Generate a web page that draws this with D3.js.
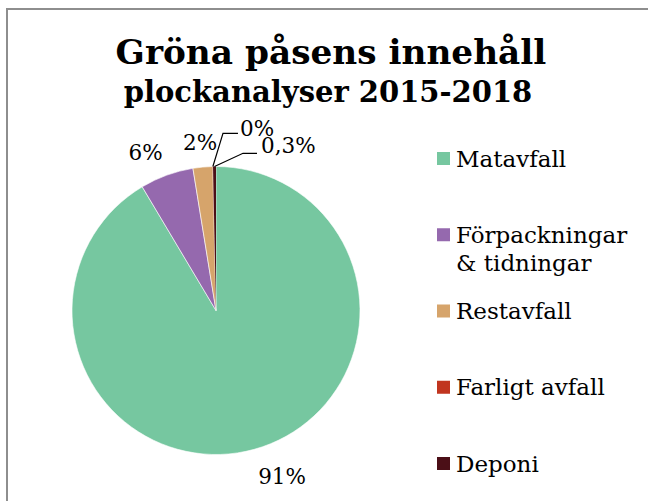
<!DOCTYPE html>
<html lang="sv">
<head>
<meta charset="utf-8">
<title>Gröna påsens innehåll</title>
<script src="https://d3js.org/d3.v7.min.js"></script>
<style>
  html, body { margin: 0; padding: 0; background: #fff; }
  svg { display: block; font-family: "DejaVu Serif", Georgia, serif; }
</style>
</head>
<body>
<div id="chart"></div>
<script>
// data
const categories = ["Matavfall", "Förpackningar & tidningar", "Restavfall", "Farligt avfall", "Deponi"];
const shares = [91.44, 6.0, 2.2, 0.03, 0.33];
const shareLabels = ["91%", "6%", "2%", "0%", "0,3%"];
const sliceColors = ["#76c7a0", "#9569ae", "#d6a46b", "#c1351f", "#4b0f17"];
const titleText = "Gröna påsens innehåll";
const subtitleText = "plockanalyser 2015-2018";

const W = 648, H = 501;
const cx = 216, cy = 310.5, r = 144;

const svg = d3.select("#chart").append("svg")
    .attr("width", W).attr("height", H);

// chart frame (only top and left edges are visible)
svg.append("rect")
    .attr("x", 7).attr("y", 9)
    .attr("width", 800).attr("height", 800)
    .attr("fill", "none")
    .attr("stroke", "#8e8e8e")
    .attr("stroke-width", 2);

// titles
svg.append("text")
    .attr("x", 331).attr("y", 64)
    .attr("text-anchor", "middle")
    .style("font-size", "34.3px").style("font-weight", "bold")
    .text(titleText);
svg.append("text")
    .attr("x", 328).attr("y", 102)
    .attr("text-anchor", "middle")
    .style("font-size", "29px").style("font-weight", "bold")
    .text(subtitleText);

const data = categories.map((c, i) => ({ name: c, value: shares[i], label: shareLabels[i], color: sliceColors[i] }));

const pie = d3.pie().sort(null).value(d => d.value);
const arc = d3.arc().innerRadius(0).outerRadius(r);
const arcs = pie(data);

const g = svg.append("g").attr("transform", `translate(${cx},${cy})`);

g.selectAll("path.slice")
    .data(arcs)
    .enter().append("path")
    .attr("class", "slice")
    .attr("d", arc)
    .attr("fill", d => d.data.color)
    .attr("stroke", d => d.data.value < 1 ? "none" : "#fff")
    .attr("stroke-width", 0.6);

// label placement relative to the outer point of each slice
const outerPt = d => {
    const a = (d.startAngle + d.endAngle) / 2;
    return [Math.sin(a) * r, -Math.cos(a) * r];
};
const labelNudge = {
    "Matavfall": { text: [27.8, 34.7], anchor: "middle" },
    "Förpackningar & tidningar": { text: [-21.2, -15.2], anchor: "middle" },
    "Restavfall": { text: [-2.7, -17.1], anchor: "middle" },
    "Farligt avfall": { text: [27.1, -31], anchor: "start", leader: [[10.1, -33.2], [25.1, -33.2]] },
    "Deponi": { text: [46.5, -13.5], anchor: "start", leader: [[28.5, -13.2], [42.5, -13.2]] }
};

arcs.forEach(d => {
    const p = outerPt(d);
    const n = labelNudge[d.data.name];
    if (n.leader) {
        const pts = [p].concat(n.leader.map(o => [p[0] + o[0], p[1] + o[1]]));
        g.append("path")
            .attr("d", d3.line()(pts))
            .attr("fill", "none")
            .attr("stroke", "#000")
            .attr("stroke-width", 1.2);
    }
    g.append("text")
        .attr("x", p[0] + n.text[0])
        .attr("y", p[1] + n.text[1])
        .attr("text-anchor", n.anchor)
        .style("font-size", "21.5px")
        .attr("fill", "#000")
        .text(d.data.label);
});

// legend
const legendY = d3.scalePoint().domain(categories).range([158.5, 463.5]);
const legend = svg.append("g");
const lineH = 28, maxW = 182;

categories.forEach((c, i) => {
    const y = legendY(c);
    legend.append("rect")
        .attr("x", 437).attr("y", y - 6.5)
        .attr("width", 13).attr("height", 13)
        .attr("fill", sliceColors[i]);

    const t = legend.append("text")
        .attr("x", 456).attr("y", y + 8)
        .style("font-size", "23px")
        .attr("fill", "#000");

    // simple word wrap
    const words = c.split(" ");
    let line = [];
    let tspan = t.append("tspan").attr("x", 456).attr("dy", 0);
    words.forEach(w => {
        line.push(w);
        tspan.text(line.join(" "));
        if (tspan.node().getComputedTextLength() > maxW && line.length > 1) {
            line.pop();
            tspan.text(line.join(" "));
            line = [w];
            tspan = t.append("tspan").attr("x", 456).attr("dy", lineH).text(w);
        }
    });
});
</script>
</body>
</html>
